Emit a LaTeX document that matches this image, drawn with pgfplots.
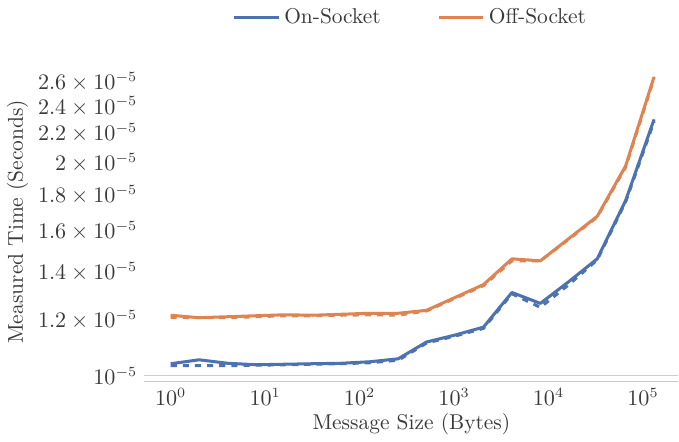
\documentclass[border=0pt]{standalone}
\usepackage{pgfplots}
\pgfplotsset{compat=1.18}
\definecolor{sbblue}{HTML}{4C72B0}
\definecolor{sborange}{HTML}{DD8452}
\definecolor{txt}{HTML}{3A3A3A}
\newcommand{\lblfont}{\fontsize{10.6}{13}\selectfont}
\begin{document}
\begin{tikzpicture}
\begin{axis}[
    scale only axis,
    width=264pt, height=158pt,
    xmode=log, ymode=log,
    xmin=0.527, xmax=237000,
    ymin=0.981e-5, ymax=2.773e-5,
    axis x line*=bottom, axis y line*=left,
    x axis line style={black!22, line width=0.6pt},
    y axis line style={draw=none},
    major tick length=0pt, minor tick length=0pt,
    minor tick num=0,
    xtick={1,10,100,1000,10000,100000},
    ytick={1e-5,1.2e-5,1.4e-5,1.6e-5,1.8e-5,2e-5,2.2e-5,2.4e-5,2.6e-5},
    yticklabels={$10^{-5}$,$1.2\times10^{-5}$,$1.4\times10^{-5}$,$1.6\times10^{-5}$,$1.8\times10^{-5}$,$2\times10^{-5}$,$2.2\times10^{-5}$,$2.4\times10^{-5}$,$2.6\times10^{-5}$},
    extra y ticks={1e-5},
    extra y tick labels={},
    extra y tick style={grid=major, major grid style={black!20, line width=0.6pt}},
    tick label style={font=\lblfont, text=txt},
    label style={font=\lblfont, text=txt},
    xlabel={Message Size (Bytes)},
    ylabel={Measured Time (Seconds)},
    xlabel style={yshift=3pt},
    ylabel style={yshift=-2pt},
    legend style={at={(0.5,1.085)}, anchor=south, draw=none, font=\lblfont, text=txt,
        legend columns=2, /tikz/every even column/.append style={column sep=26pt}},
    legend cell align=left,
    legend image code/.code={\draw[#1, line width=1.5pt] (0pt,0pt) -- (22pt,0pt);},
    every axis plot/.append style={line width=1.5pt, line join=round},
]
\addplot[sbblue, no markers] coordinates {
(1,1.0394e-5) (2,1.0528e-5) (4,1.0410e-5) (8,1.0360e-5) (16,1.0377e-5) (32,1.0394e-5)
(64,1.0410e-5) (128,1.0461e-5) (256,1.0562e-5) (512,1.1156e-5) (1024,1.1410e-5)
(2048,1.1708e-5) (4096,1.3103e-5) (8192,1.2648e-5) (16384,1.3575e-5) (32768,1.4618e-5)
(65536,1.7674e-5) (131072,2.3010e-5)
};
\addlegendentry{On-Socket}
\addplot[sborange, no markers] coordinates {
(1,1.2169e-5) (2,1.2071e-5) (4,1.2110e-5) (8,1.2149e-5) (16,1.2188e-5) (32,1.2169e-5)
(64,1.2208e-5) (128,1.2247e-5) (256,1.2247e-5) (512,1.2366e-5) (1024,1.2894e-5)
(2048,1.3445e-5) (4096,1.4618e-5) (8192,1.4524e-5) (16384,1.5614e-5) (32768,1.6787e-5)
(65536,1.9782e-5) (131072,2.6424e-5)
};
\addlegendentry{Off-Socket}
\addplot[sbblue, dashed, no markers, forget plot] coordinates {
(1,1.0327e-5) (2,1.0327e-5) (4,1.0327e-5) (8,1.0344e-5) (16,1.0360e-5) (32,1.0377e-5)
(64,1.0394e-5) (128,1.0428e-5) (256,1.0512e-5) (512,1.1120e-5) (1024,1.1373e-5)
(2048,1.1660e-5) (4096,1.3050e-5) (8192,1.2486e-5) (16384,1.3445e-5) (32768,1.4570e-5)
(65536,1.7600e-5) (131072,2.2850e-5)
};
\addplot[sborange, dashed, no markers, forget plot] coordinates {
(1,1.2090e-5) (2,1.2071e-5) (4,1.2071e-5) (8,1.2110e-5) (16,1.2149e-5) (32,1.2149e-5)
(64,1.2169e-5) (128,1.2188e-5) (256,1.2169e-5) (512,1.2340e-5) (1024,1.2860e-5)
(2048,1.3400e-5) (4096,1.4524e-5) (8192,1.4524e-5) (16384,1.5580e-5) (32768,1.6750e-5)
(65536,1.9700e-5) (131072,2.6300e-5)
};
\end{axis}
\end{tikzpicture}
\end{document}
